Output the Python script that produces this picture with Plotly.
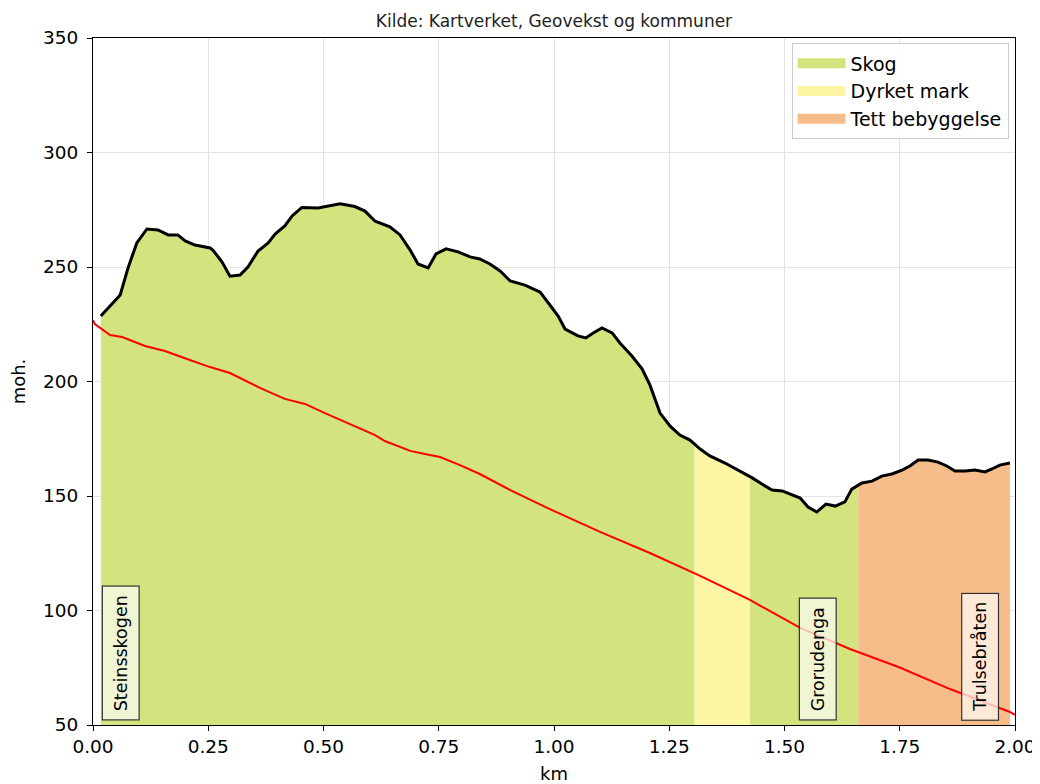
import numpy as np
import plotly.graph_objects as go

# Terrain profile (km, metres above sea level)
dist_km = [0.017, 0.059, 0.076, 0.095, 0.117, 0.141, 0.163, 0.184, 0.200, 0.221, 0.254, 0.260,
           0.280, 0.297, 0.319, 0.336, 0.358, 0.380, 0.395, 0.416, 0.432, 0.453, 0.488, 0.514,
           0.536, 0.568, 0.590, 0.612, 0.644, 0.666, 0.688, 0.705, 0.727, 0.744, 0.766, 0.792,
           0.818, 0.839, 0.861, 0.883, 0.905, 0.937, 0.970, 0.991, 1.009, 1.024, 1.052, 1.069,
           1.085, 1.104, 1.126, 1.143, 1.169, 1.191, 1.208, 1.230, 1.252, 1.273, 1.295, 1.317,
           1.338, 1.371, 1.403, 1.430, 1.451, 1.473, 1.495, 1.512, 1.534, 1.551, 1.570, 1.590,
           1.610, 1.631, 1.646, 1.668, 1.690, 1.711, 1.733, 1.755, 1.772, 1.790, 1.811, 1.833,
           1.852, 1.870, 1.892, 1.913, 1.935, 1.950, 1.967, 1.989]
elev_m = [228.6, 237.8, 249.6, 260.5, 266.6, 266.2, 264.0, 264.0, 261.4, 259.6, 258.3, 257.4,
          252.2, 246.0, 246.5, 250.0, 257.0, 260.5, 264.4, 267.9, 272.3, 276.0, 275.8, 276.6,
          277.6, 276.4, 274.4, 270.0, 267.5, 264.0, 257.4, 251.3, 249.6, 255.7, 257.9, 256.6,
          254.4, 253.5, 251.3, 248.3, 243.9, 242.1, 239.0, 233.4, 228.6, 222.9, 219.9, 219.0,
          221.2, 223.4, 221.2, 216.8, 211.1, 205.5, 198.5, 186.2, 180.5, 176.6, 174.4, 170.5,
          167.5, 164.4, 160.9, 157.9, 155.2, 152.6, 152.2, 150.9, 149.1, 145.2, 143.0, 146.5,
          145.6, 147.4, 153.0, 155.7, 156.5, 158.7, 159.6, 161.3, 163.1, 165.7, 165.7, 164.8,
          163.1, 160.9, 160.9, 161.3, 160.5, 161.8, 163.5, 164.4]

# Red reference line
red_km = [0.0, 0.004, 0.037, 0.063, 0.113, 0.156, 0.210, 0.254, 0.297, 0.319, 0.362, 0.416,
          0.460, 0.503, 0.557, 0.612, 0.633, 0.688, 0.720, 0.753, 0.796, 0.839, 0.905, 0.991,
          1.100, 1.208, 1.317, 1.425, 1.534, 1.642, 1.750, 1.859, 1.989, 2.000]
red_m = [226.8, 225.1, 220.3, 219.4, 215.5, 213.3, 209.4, 206.3, 203.7, 201.5, 197.2, 192.4,
         190.2, 186.2, 181.4, 176.6, 174.0, 169.7, 168.3, 167.0, 163.5, 159.6, 152.6, 144.3,
         134.3, 125.1, 115.1, 104.6, 92.4, 83.2, 75.1, 65.7, 55.7, 54.4]

# Land-cover segments
seg_start = [0.017, 1.305, 1.425, 1.660]
seg_end = [1.305, 1.425, 1.660, 1.989]
seg_class = ["Skog", "Dyrket mark", "Skog", "Tett bebyggelse"]
legend_classes = ["Skog", "Dyrket mark", "Tett bebyggelse"]
class_colors = {"Skog": "#d3e47f", "Dyrket mark": "#fdf6a4", "Tett bebyggelse": "#f6bc8a"}

# Place labels
place_names = ["Steinsskogen", "Grorudenga", "Trulsebråten"]
place_km = [0.061, 1.573, 1.924]
place_bg = ["rgba(250,252,240,0.75)", "rgba(250,252,240,0.75)", "rgba(255,248,242,0.75)"]

x_ticks = [0.0, 0.25, 0.5, 0.75, 1.0, 1.25, 1.5, 1.75, 2.0]
y_ticks = [50, 100, 150, 200, 250, 300, 350]

fig = go.Figure()

xs = np.array(dist_km)
ys = np.array(elev_m)
for s, e, c in zip(seg_start, seg_end, seg_class):
    mask = (xs > s) & (xs < e)
    sx = [s] + list(xs[mask]) + [e]
    sy = [float(np.interp(s, xs, ys))] + list(ys[mask]) + [float(np.interp(e, xs, ys))]
    fig.add_trace(go.Scatter(
        x=sx, y=sy, mode="lines", fill="tozeroy", fillcolor=class_colors[c],
        line=dict(width=0, color=class_colors[c]), name=c, legendgroup=c,
        showlegend=False, hoverinfo="skip"))

# legend-only swatches (thick patches)
for c in legend_classes:
    fig.add_trace(go.Scatter(x=[None], y=[None], mode="lines", name=c, legendgroup=c,
                             line=dict(color=class_colors[c], width=14), showlegend=True))

fig.add_trace(go.Scatter(x=dist_km, y=elev_m, mode="lines",
                         line=dict(color="black", width=3), showlegend=False))
fig.add_trace(go.Scatter(x=red_km, y=red_m, mode="lines",
                         line=dict(color="red", width=2), showlegend=False))

for name, xk, bg in zip(place_names, place_km, place_bg):
    fig.add_annotation(x=xk, y=51.8, xref="x", yref="y", text=name, textangle=-90,
                       showarrow=False, xanchor="center", yanchor="bottom",
                       font=dict(family="DejaVu Sans", size=17.5, color="black"),
                       bgcolor=bg, bordercolor="#333333", borderwidth=1.2, borderpad=8)

fig.update_layout(
    width=1032, height=776,
    margin=dict(l=85, r=25, t=30, b=59),
    paper_bgcolor="white", plot_bgcolor="white",
    font=dict(family="DejaVu Sans", size=18, color="black"),
    title=dict(text="Kilde: Kartverket, Geovekst og kommuner", x=0.5, xref="paper",
               xanchor="center", y=1 - 19 / 776, yanchor="bottom",
               font=dict(size=17, color="#222222")),
    legend=dict(x=0.993, y=0.992, xanchor="right", yanchor="top",
                bgcolor="rgba(255,255,255,0.85)", bordercolor="#cccccc", borderwidth=1,
                font=dict(size=19), tracegroupgap=0, itemwidth=48),
    showlegend=True,
)
fig.update_xaxes(range=[0, 2], tickvals=x_ticks, ticktext=[f"{v:.2f}" for v in x_ticks],
                 showgrid=True, gridcolor="#e3e3e3", gridwidth=1,
                 showline=True, linecolor="black", linewidth=1.2, mirror=True,
                 ticks="outside", ticklen=5, tickcolor="black", zeroline=False,
                 tickfont=dict(size=18.5), automargin=False, ticklabeloverflow="allow",
                 title=dict(text="km", standoff=15, font=dict(size=18)), layer="above traces")
fig.update_yaxes(range=[50, 350], tickvals=y_ticks,
                 showgrid=True, gridcolor="#e3e3e3", gridwidth=1,
                 showline=True, linecolor="black", linewidth=1.2, mirror=True,
                 ticks="outside", ticklen=5, tickcolor="black", zeroline=False,
                 tickfont=dict(size=18.5), automargin=False, ticklabeloverflow="allow",
                 ticklabelstandoff=5,
                 title=dict(text="moh.", standoff=14, font=dict(size=18)), layer="above traces")

fig.write_html("out.html")
